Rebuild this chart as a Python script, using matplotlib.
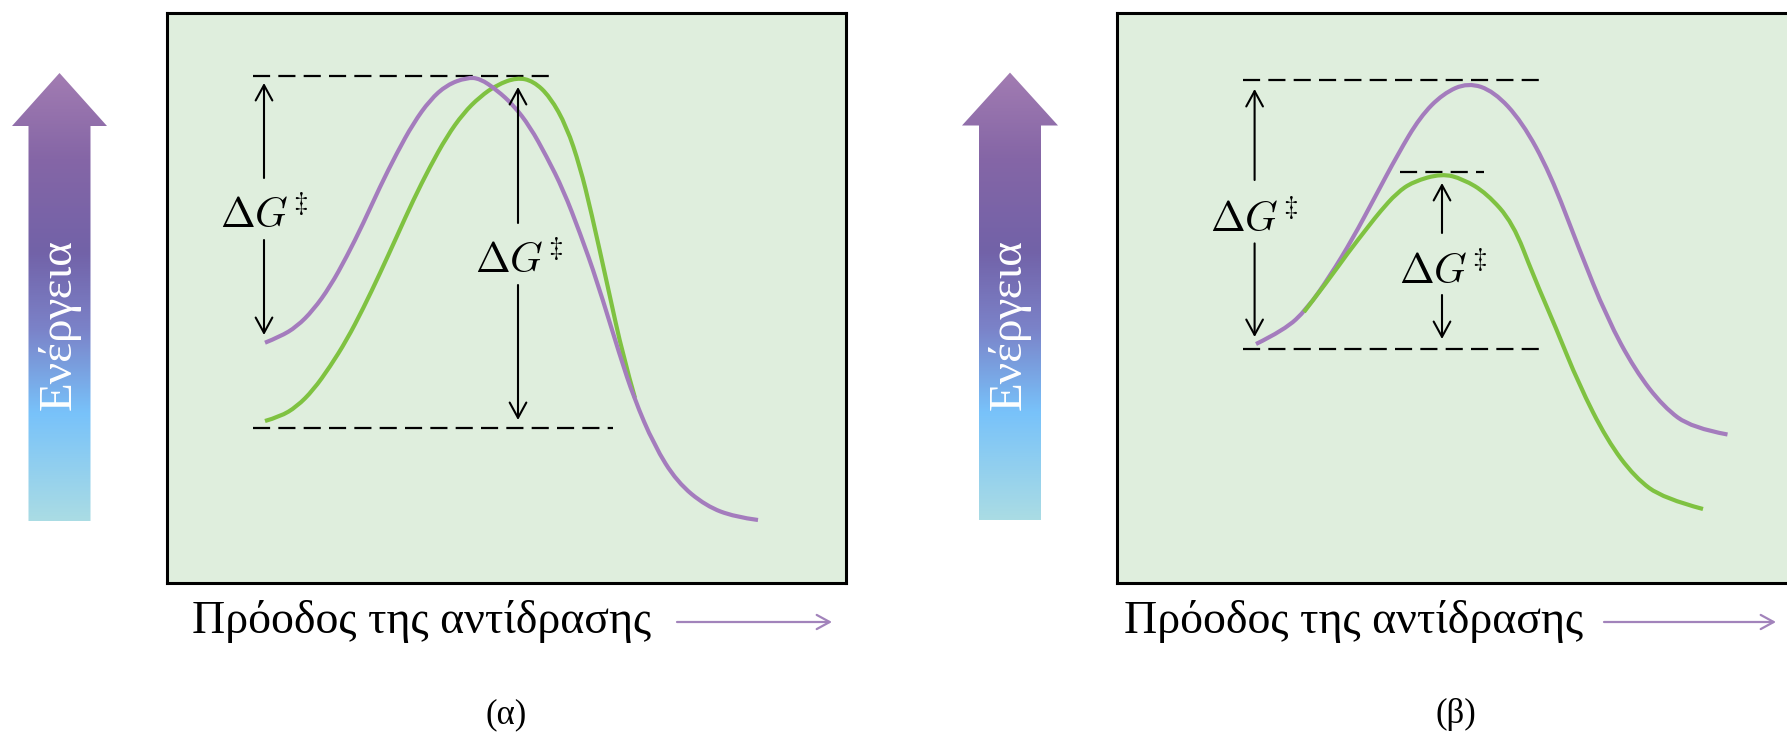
import numpy as np
import matplotlib
matplotlib.use("Agg")
import matplotlib.pyplot as plt
from matplotlib.patches import FancyArrowPatch, Polygon, PathPatch
from matplotlib.path import Path
from matplotlib.colors import LinearSegmentedColormap

plt.rcParams['mathtext.fontset'] = 'cm'
plt.rcParams['font.family'] = ['Liberation Serif', 'DejaVu Serif']

# ---------------- data (reaction progress x, energy E) ----------------
# Panel (α): uncatalysed (purple) and second pathway (green)
a_purple_x = [98, 113, 129.7, 146.3, 163, 179.7, 196.3, 213, 229.7, 246.3, 263, 279.7, 299.7, 313,
              329.7, 346.3, 363, 379.7, 396.3, 413, 430, 453, 467, 487, 510, 539, 568, 591]
a_purple_E = [240.3, 246.3, 256.3, 273, 296.3, 326.3, 359.7, 396.3, 429.7, 459.7, 483, 498, 505.5, 504.5,
              493, 478, 456.3, 426.3, 393, 350, 302, 227, 185, 138, 101, 77, 66, 63]
a_green_x = [98, 113, 129.7, 146.3, 163, 179.7, 196.3, 213, 229.7, 246.3, 263, 279.7, 296.3, 313,
             329.7, 349.7, 366.3, 383, 399.7, 413, 424, 441.5, 456, 468]
a_green_E = [162, 166.3, 176.3, 193, 216.3, 243, 274.7, 309.7, 346.3, 383, 416.3, 446.3, 469.7, 486.3,
             498, 505.5, 502, 486.3, 456.3, 416.3, 372, 293, 227, 185]
a_levels_E = [507.5, 155]            # transition state, reactant level
a_levels_x0 = [86, 86]
a_levels_x1 = [386, 446]

# Panel (β): uncatalysed (purple) and catalysed (green)
b_purple_x = [139, 167.6, 190, 213, 235.5, 258, 280.7, 303, 326, 351, 377, 405, 433, 461.7, 490,
              518, 546.6, 575, 610.5]
b_purple_E = [239, 253, 274, 307, 344, 386, 428.5, 466, 489.4, 500.5, 491.7, 461.3, 410, 335, 265,
              213, 176, 155, 148.5]
b_green_x = [187, 213, 230, 252.5, 263, 279.7, 296, 324.7, 346, 369.7, 396, 416.5, 439, 461.7, 490,
             518, 546.6, 586]
b_green_E = [271, 305, 329, 358, 371.3, 390, 401.3, 409.5, 404, 389.7, 360, 307, 255, 199, 143,
             105.5, 84.4, 74]
b_levels_E = [503, 411, 234]
b_levels_x0 = [126, 283, 126]
b_levels_x1 = [425, 367, 425]

label = r'$\Delta G^{\!\ddagger}$'
xlabel_text = 'Πρόοδος της αντίδρασης'
ylabel_text = 'Ενέργεια'
panel_tags = ['(α)', '(β)']

# ---------------- styling ----------------
W, H = 1787, 734
PURPLE = '#a47cbd'
GREEN = '#7fc241'
BG = '#dfeedd'
ARROW_PURPLE = '#a283bb'

fig = plt.figure(figsize=(W / 100, H / 100), dpi=100)

# overlay axes in pixel coordinates for decorations
ov = fig.add_axes([0, 0, 1, 1], zorder=0)
ov.set_xlim(0, W)
ov.set_ylim(H, 0)
ov.axis('off')


def panel_axes(left_px):
    ax = fig.add_axes([left_px / W, (H - 583) / H, 679 / W, 570 / H], zorder=1)
    ax.set_xlim(0, 679)
    ax.set_ylim(0, 570)
    ax.set_facecolor(BG)
    ax.set_xticks([])
    ax.set_yticks([])
    for s in ax.spines.values():
        s.set_linewidth(2.2)
        s.set_color('black')
    return ax


def smooth_curve(ax, xs, es, color, z):
    """Draw the read points as the control polygon of a quadratic B-spline (library Bezier path)."""
    p = np.column_stack([xs, es]).astype(float)
    verts = [p[0]]
    codes = [Path.MOVETO]
    for i in range(1, len(p) - 1):
        end = p[i + 1] if i == len(p) - 2 else (p[i] + p[i + 1]) / 2
        verts += [p[i], end]
        codes += [Path.CURVE3, Path.CURVE3]
    patch = PathPatch(Path(verts, codes), facecolor='none', edgecolor=color, lw=3.0,
                      capstyle='butt', zorder=z)
    ax.add_patch(patch)


def dashed(ax, x0s, x1s, Es):
    for x0, x1, e in zip(x0s, x1s, Es):
        ax.plot([x0, x1], [e, e], color='black', lw=1.6, dashes=(7.7, 3.7), zorder=2)


def arrow(ax, x, e_from, e_to):
    p = FancyArrowPatch((x, e_from), (x, e_to), arrowstyle='->,head_length=0.55,head_width=0.3',
                        mutation_scale=20, lw=1.5, color='black', shrinkA=0, shrinkB=0, zorder=5)
    ax.add_patch(p)


# ---- panel α ----
axa = panel_axes(167)
dashed(axa, a_levels_x0, a_levels_x1, a_levels_E)
smooth_curve(axa, a_green_x, a_green_E, GREEN, 3)
smooth_curve(axa, a_purple_x, a_purple_E, PURPLE, 4)
arrow(axa, 97, 405, 500)
arrow(axa, 97, 343, 248)
axa.text(97, 354.7, label, ha='center', va='baseline', fontsize=30, zorder=6)
arrow(axa, 351, 360, 496)
arrow(axa, 351, 298, 163)
axa.text(352, 310.3, label, ha='center', va='baseline', fontsize=30, zorder=6)

# ---- panel β ----
axb = panel_axes(1117)
dashed(axb, b_levels_x0, b_levels_x1, b_levels_E)
smooth_curve(axb, b_purple_x, b_purple_E, PURPLE, 3)
smooth_curve(axb, b_green_x, b_green_E, GREEN, 4)
arrow(axb, 137.6, 403, 494)
arrow(axb, 137.6, 339.6, 246)
axb.text(137, 351, label, ha='center', va='baseline', fontsize=30, zorder=6)
arrow(axb, 325, 350, 400)
arrow(axb, 325, 288, 244)
axb.text(326, 299, label, ha='center', va='baseline', fontsize=30, zorder=6)

# ---- gradient "Energy" arrows ----
grad_cmap = LinearSegmentedColormap.from_list(
    'energy', [(0.0, '#a27cb2'), (0.19, '#8566a6'), (0.40, '#7262a8'), (0.57, '#7b82c8'),
               (0.76, '#78c2fa'), (1.0, '#aadce4')])
grad = np.linspace(0, 1, 256).reshape(-1, 1)


def energy_arrow(xl_head, xl_shaft, xr_shaft, xr_head, y_tip, y_base, y_bottom, text_x):
    xc = (xl_head + xr_head) / 2
    poly = Polygon([(xc, y_tip), (xr_head, y_base), (xr_shaft, y_base), (xr_shaft, y_bottom),
                    (xl_shaft, y_bottom), (xl_shaft, y_base), (xl_head, y_base)],
                   closed=True, facecolor='none', edgecolor='none', transform=ov.transData)
    ov.add_patch(poly)
    im = ov.imshow(grad, cmap=grad_cmap, aspect='auto', extent=(xl_head, xr_head, y_bottom, y_tip),
                   interpolation='bilinear')
    im.set_clip_path(poly)
    ov.text(text_x, 324, ylabel_text, rotation=90, ha='center', va='center', color='white',
            fontsize=34)


energy_arrow(12, 28.5, 90.5, 107, 73, 126, 521, 59.5)
energy_arrow(962, 979, 1041, 1058, 72.6, 125.5, 520, 1009)
ov.set_xlim(0, W)
ov.set_ylim(H, 0)

# ---- x labels with purple arrows ----
for tx, ax0, ax1 in [(192, 677, 832), (1124, 1604, 1776)]:
    ov.text(tx, 633, xlabel_text, ha='left', va='baseline', fontsize=33)
    ov.add_patch(FancyArrowPatch((ax0, 622), (ax1, 622), arrowstyle='->,head_length=0.55,head_width=0.3',
                                 mutation_scale=17, lw=1.6, color=ARROW_PURPLE, shrinkA=0, shrinkB=0))

for tag, cx in zip(panel_tags, [506, 1456]):
    ov.text(cx, 723, tag, ha='center', va='baseline', fontsize=25)

fig.savefig('out.png', dpi=100, facecolor='white')
